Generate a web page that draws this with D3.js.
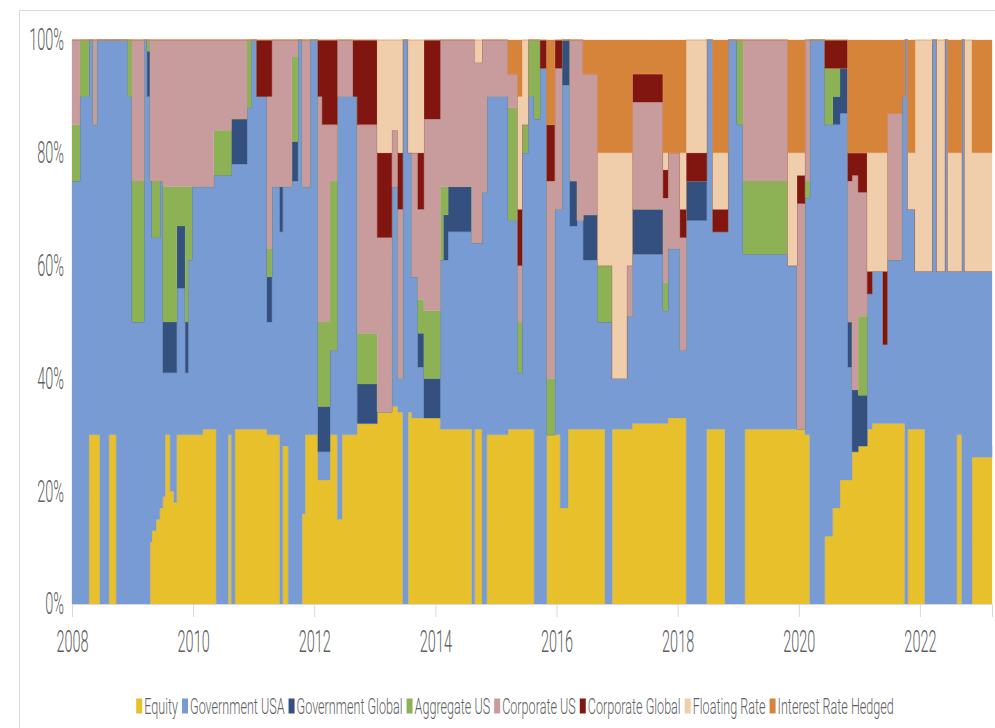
<!DOCTYPE html>
<html>
<head>
<meta charset="utf-8">
<script src="https://cdn.jsdelivr.net/npm/d3@7"></script>
<style>
  body { margin: 0; background: #fff; }
</style>
</head>
<body>
<div id="chart"></div>
<script>
// allocation shares (%); each row holds until the next date
var dates = [2008.00,2008.13,2008.28,2008.35,2008.41,2008.46,2008.61,2008.73,2008.92,2008.99,
  2009.19,2009.24,2009.29,2009.32,2009.39,2009.45,2009.50,2009.54,2009.62,2009.68,
  2009.73,2009.87,2009.92,2009.98,2010.16,2010.34,2010.38,2010.58,2010.63,2010.69,
  2010.89,2010.96,2011.05,2011.22,2011.30,2011.43,2011.48,2011.57,2011.63,2011.73,
  2011.80,2011.85,2011.93,2012.06,2012.13,2012.26,2012.38,2012.46,2012.64,2012.71,
  2013.04,2013.28,2013.38,2013.46,2013.55,2013.61,2013.71,2013.81,2014.08,2014.13,
  2014.21,2014.60,2014.65,2014.77,2014.85,2015.20,2015.36,2015.43,2015.53,2015.63,
  2015.73,2015.84,2015.97,2016.06,2016.09,2016.19,2016.22,2016.34,2016.44,2016.68,
  2016.80,2016.92,2017.16,2017.25,2017.76,2017.84,2018.04,2018.14,2018.48,2018.58,
  2018.78,2018.83,2018.98,2019.08,2019.11,2019.82,2019.97,2020.10,2020.18,2020.43,
  2020.56,2020.68,2020.81,2020.88,2020.98,2021.13,2021.21,2021.39,2021.46,2021.70,
  2021.75,2021.80,2021.92,2022.08,2022.20,2022.28,2022.41,2022.46,2022.61,2022.69,
  2022.74,2022.86,2023.19];

var equity = [0,0,30,30,30,0,30,0,0,0,
  0,0,11,13,15,17,19,30,20,18,
  30,30,30,30,31,31,0,30,0,31,
  31,31,31,30,30,0,28,0,0,0,
  16,30,30,22,22,30,15,30,30,32,
  34,35,34,0,34,33,33,33,31,31,
  31,0,31,0,30,31,31,31,31,0,
  0,30,30,17,17,31,31,31,31,31,
  0,31,31,32,32,33,33,0,31,31,
  0,0,0,0,31,31,31,30,0,12,
  17,22,22,27,28,31,32,32,32,32,
  0,31,31,0,0,0,0,0,30,0,
  0,26,28];

var govUSA = [75,90,70,55,70,100,70,100,90,50,
  100,90,64,52,50,58,22,11,21,23,
  26,11,31,44,43,45,76,46,78,47,
  57,69,59,20,44,66,46,74,75,100,
  58,44,70,5,5,15,75,60,60,0,
  0,39,6,100,46,25,9,0,30,30,
  35,64,33,73,60,37,10,49,59,86,
  95,0,40,53,75,61,36,37,30,19,
  50,9,20,30,20,30,12,68,69,35,
  66,100,85,62,31,29,0,42,100,73,
  68,65,20,0,0,24,27,14,29,58,
  100,39,28,59,100,59,100,59,29,100,
  59,33,31];

var govGlobal = [0,0,0,0,0,0,0,0,0,0,
  0,8,0,0,0,0,9,9,9,9,
  11,9,0,0,0,0,0,0,8,8,
  0,0,0,8,0,8,0,0,7,0,
  0,0,0,8,8,0,0,0,0,7,
  0,0,0,0,0,0,6,7,0,8,
  8,0,0,0,0,0,0,0,0,0,
  0,0,0,0,8,8,8,0,8,0,
  0,0,0,8,0,0,0,7,0,0,
  0,0,0,0,0,0,0,0,0,0,
  5,8,8,11,9,0,0,0,0,0,
  0,0,0,0,0,0,0,0,0,0,
  0,0,0];

var aggUS = [10,10,0,0,0,0,0,0,10,25,
  0,2,0,10,10,0,24,24,24,24,
  7,24,13,0,0,8,8,8,0,0,
  12,0,0,5,0,0,0,0,15,0,
  0,0,0,15,15,30,0,0,0,9,
  0,0,0,0,0,0,6,12,13,5,
  0,0,0,0,0,20,9,5,10,14,
  0,10,0,0,0,0,0,0,0,10,
  10,0,0,0,5,0,0,0,0,0,
  0,0,15,13,13,0,0,3,0,10,
  5,0,0,0,14,0,0,0,0,0,
  0,0,0,0,0,0,0,0,0,0,
  0,0,0];

var corpUS = [15,0,0,15,0,0,0,0,0,25,
  0,0,25,25,25,25,26,26,26,26,
  26,26,26,26,26,16,16,16,14,14,
  0,0,0,27,26,26,26,26,3,0,
  26,26,0,40,35,10,10,10,0,37,
  31,10,30,0,0,22,16,34,26,26,
  26,36,32,27,10,6,10,0,0,0,
  0,35,25,25,0,0,25,32,25,0,
  0,0,9,19,15,17,20,0,0,0,
  0,0,0,25,25,0,40,25,0,0,
  0,0,25,38,22,0,0,0,26,0,
  0,0,0,0,0,0,0,0,0,0,
  0,0,0];

var corpGlobal = [0,0,0,0,0,0,0,0,0,0,
  0,0,0,0,0,0,0,0,0,0,
  0,0,0,0,0,0,0,0,0,0,
  0,0,10,10,0,0,0,0,0,0,
  0,0,0,10,15,15,0,0,10,15,
  15,0,10,0,0,0,10,14,0,0,
  0,0,0,0,0,0,10,0,0,0,
  5,10,5,5,0,0,0,0,0,0,
  0,0,0,5,5,0,5,5,0,4,
  4,0,0,0,0,0,5,0,0,5,
  5,5,5,4,7,4,0,13,0,0,
  0,0,0,0,0,0,0,0,0,0,
  0,0,0];

var floating = [0,0,0,0,0,0,0,0,0,0,
  0,0,0,0,0,0,0,0,0,0,
  0,0,0,0,0,0,0,0,0,0,
  0,0,0,0,0,0,0,0,0,0,
  0,0,0,0,0,0,0,0,0,0,
  20,16,20,0,20,20,20,0,0,0,
  0,0,4,0,0,0,20,15,0,0,
  0,0,0,0,0,0,0,0,0,20,
  20,40,20,0,3,0,10,20,0,10,
  10,0,0,0,0,20,4,0,0,0,
  0,0,0,0,0,21,21,21,0,0,
  0,10,41,41,0,41,0,21,21,0,
  41,21,21];

var hedged = [0,0,0,0,0,0,0,0,0,0,
  0,0,0,0,0,0,0,0,0,0,
  0,0,0,0,0,0,0,0,0,0,
  0,0,0,0,0,0,0,0,0,0,
  0,0,0,0,0,0,0,0,0,0,
  0,0,0,0,0,0,0,0,0,0,
  0,0,0,0,0,6,10,0,0,0,
  0,15,0,0,0,0,0,0,6,20,
  20,20,20,6,20,20,20,0,0,20,
  20,0,0,0,0,20,20,0,0,0,
  0,0,20,20,20,20,20,20,13,10,
  0,20,0,0,0,0,0,20,20,0,
  0,20,20];

var keys = ["Equity", "Government USA", "Government Global", "Aggregate US",
            "Corporate US", "Corporate Global", "Floating Rate", "Interest Rate Hedged"];
var series = [equity, govUSA, govGlobal, aggUS, corpUS, corpGlobal, floating, hedged];
var yearTicks = [2008, 2010, 2012, 2014, 2016, 2018, 2020, 2022];
var pctTicks = [0, 0.2, 0.4, 0.6, 0.8, 1];

function init(){

    var w = 995, h = 728;
    var left = 72, right = 992, top = 40, bottom = 604;
    var textColor = "#5f5f5f";
    var font = "Roboto, 'Liberation Sans', Arial, sans-serif";

    var color = d3.scaleOrdinal()
        .domain(keys)
        .range(["#E8C02B", "#799BD4", "#33507F", "#8DB255",
                "#C89B9C", "#80160F", "#F0CEAB", "#D6843A"]);

    var dataset = dates.map(function(d, i){
        var row = { date: d };
        keys.forEach(function(k, j){ row[k] = series[j][i]; });
        return row;
    });

    var stack = d3.stack().keys(keys).offset(d3.stackOffsetExpand);
    var layers = stack(dataset);

    var svg = d3.select("#chart")
        .append("svg")
        .attr("width", w)
        .attr("height", h);

    // outer frame
    svg.append("rect")
        .attr("x", 19.5).attr("y", 10.5)
        .attr("width", 1000).attr("height", 800)
        .attr("fill", "none")
        .attr("stroke", "#dadada");

    var xScale = d3.scaleLinear()
        .domain([dates[0], dates[dates.length - 1]])
        .range([left, right]);

    var yScale = d3.scaleLinear()
        .domain([0, 1])
        .range([bottom, top]);

    var area = d3.area()
        .curve(d3.curveStepAfter)
        .x(function(d){ return xScale(d.data.date); })
        .y0(function(d){ return yScale(d[0]); })
        .y1(function(d){ return yScale(d[1]); });

    svg.append("g")
        .selectAll("path")
        .data(layers)
        .enter()
        .append("path")
        .attr("d", area)
        .attr("fill", function(d){ return color(d.key); })
        .attr("stroke", function(d){ return color(d.key); })
        .attr("stroke-width", 0.3);

    // y axis
    var yAxis = svg.append("g")
        .attr("transform", "translate(" + left + ",0)")
        .call(d3.axisLeft(yScale)
            .tickValues(pctTicks)
            .tickFormat(d3.format(".0%"))
            .tickSize(0)
            .tickPadding(8));
    yAxis.select(".domain").remove();
    yAxis.selectAll("text")
        .attr("fill", textColor)
        .style("font-family", font)
        .style("font-weight", 300)
        .style("font-size", "14.5px")
        .attr("transform", "scale(1,2.15)");

    // x axis
    var xAxis = svg.append("g")
        .attr("transform", "translate(0," + bottom + ")")
        .call(d3.axisBottom(xScale)
            .tickValues(yearTicks)
            .tickFormat(d3.format("d"))
            .tickSize(13));
    xAxis.select(".domain").attr("stroke", "#d9d9d9");
    xAxis.selectAll(".tick line").attr("stroke", "#d9d9d9");
    xAxis.selectAll("text")
        .attr("fill", textColor)
        .attr("y", 12.2)
        .style("font-family", font)
        .style("font-weight", 300)
        .style("font-size", "14.5px")
        .attr("transform", "scale(1,2.15)");

    // legend, laid out from measured text widths and centred like the original
    var legend = svg.append("g");
    var lx = 0, ly = 706;
    keys.forEach(function(k){
        legend.append("rect")
            .attr("x", lx).attr("y", ly - 7.5)
            .attr("width", 6).attr("height", 15)
            .attr("fill", color(k));
        var g = legend.append("g").attr("transform", "translate(" + (lx + 8) + "," + ly + ")");
        var t = g.append("text")
            .attr("dy", "0.35em")
            .attr("transform", "scale(1,1.8)")
            .attr("fill", textColor)
            .style("font-family", font)
            .style("font-weight", 300)
            .style("font-size", "12.6px")
            .text(k);
        lx += 8 + t.node().getComputedTextLength() + 4;
    });
    legend.attr("transform", "translate(" + (515 - (lx - 4) / 2) + ",0)");
}
window.onload = init;
</script>
</body>
</html>
